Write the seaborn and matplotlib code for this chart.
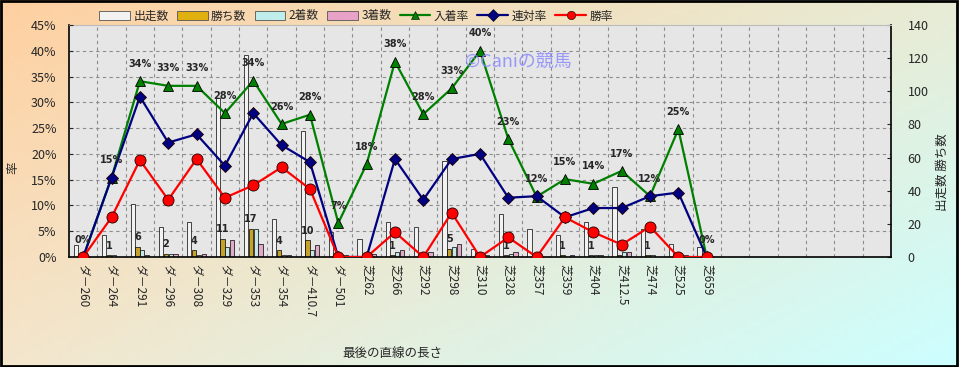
import numpy as np
import pandas as pd
import matplotlib
matplotlib.use('Agg')
import matplotlib.pyplot as plt
from matplotlib.patches import Patch, Rectangle
from matplotlib.lines import Line2D
from matplotlib.ticker import FixedLocator, FuncFormatter
import seaborn as sns

# data
cats = ['ダ－260', 'ダ－264', 'ダ－291', 'ダ－296', 'ダ－308', 'ダ－329', 'ダ－353', 'ダ－354',
        'ダ－410.7', 'ダ－501', '芝262', '芝266', '芝292', '芝298', '芝310', '芝328', '芝357',
        '芝359', '芝404', '芝412.5', '芝474', '芝525', '芝659']
runs = [7, 13, 32, 18, 21, 96, 122, 23, 76, 15, 11, 21, 18, 58, 5, 26, 17, 13, 21, 42, 17, 8, 6]
wins = [0, 1, 6, 2, 4, 11, 17, 4, 10, 0, 0, 1, 0, 5, 0, 1, 0, 1, 1, 1, 1, 0, 0]
seconds = [0, 1, 4, 2, 1, 6, 17, 1, 4, 0, 0, 3, 2, 6, 1, 2, 2, 0, 1, 3, 1, 1, 0]
thirds = [0, 0, 1, 2, 2, 10, 8, 1, 7, 1, 2, 4, 3, 8, 1, 3, 0, 1, 1, 3, 0, 1, 0]
place_rate = [0, 15.4, 34.1, 33.2, 33.2, 27.9, 34.2, 25.8, 27.6, 6.6, 18.0, 37.9, 27.7, 32.7,
              40.0, 22.9, 11.7, 15.1, 14.2, 16.7, 11.8, 24.8, 0]
quinella_rate = [0, 15.4, 31.1, 22.2, 23.8, 17.7, 27.9, 21.7, 18.4, 0, 0, 19.0, 11.1, 19.0,
                 20.0, 11.5, 11.8, 7.7, 9.5, 9.5, 11.8, 12.5, 0]
win_rate = [0, 7.7, 18.8, 11.1, 19.0, 11.5, 13.9, 17.4, 13.2, 0, 0, 4.8, 0, 8.6, 0, 3.8, 0,
            7.7, 4.8, 2.4, 5.9, 0, 0]
n_slots = 29

bar_names = ['出走数', '勝ち数', '2着数', '3着数']
bar_colors = ['#F2F2F2', '#E0B010', '#BFEDEB', '#E8A2C8']
line_names = ['入着率', '連対率', '勝率']
line_colors = ['#008000', '#000080', '#FF0000']
line_markers = ['^', 'D', 'o']

sns.set_style('white')
plt.rcParams['font.family'] = ['Noto Sans CJK JP', 'DejaVu Sans']

fig = plt.figure(figsize=(9.59, 3.67), dpi=100)

# gradient background
bg = fig.add_axes([0, 0, 1, 1], zorder=-10)
tl = np.array([255, 208, 160]) / 255
tr = np.array([232, 236, 214]) / 255
bl = np.array([244, 230, 204]) / 255
br = np.array([204, 255, 255]) / 255
u = np.linspace(0, 1, 200)[None, :, None]
v = np.linspace(0, 1, 80)[:, None, None]
img = (1 - v) * ((1 - u) * tl + u * tr) + v * ((1 - u) * bl + u * br)
bg.imshow(img, aspect='auto', extent=[0, 1, 0, 1])
bg.axis('off')
fig.patches.append(Rectangle((0.001, 0.002), 0.997, 0.995, transform=fig.transFigure,
                             fill=False, edgecolor='black', lw=2))

ax = fig.add_axes([0.072, 0.2997, 0.857, 0.6322])
ax.set_facecolor('#E6E6E6')
ax2 = ax.twinx()
ax2.patch.set_visible(False)

df = pd.DataFrame({'距離': cats, '出走数': runs, '勝ち数': wins, '2着数': seconds, '3着数': thirds})
long_df = df.melt(id_vars='距離', var_name='種類', value_name='数')
sns.barplot(data=long_df, x='距離', y='数', hue='種類', order=cats, hue_order=bar_names,
            palette=bar_colors, width=0.68, gap=0.12, edgecolor='black', linewidth=0.5,
            errorbar=None, legend=False, ax=ax)

for i, w in enumerate(wins):
    if w > 0:
        ax.annotate(str(w), (i - 0.085, w), xytext=(0, 7), textcoords='offset points',
                    ha='center', va='center', fontsize=7, fontweight='bold', family='DejaVu Sans')

# right axis: counts
ax.set_ylim(0, 140)
ax.set_yticks(range(0, 141, 20))
ax.yaxis.tick_right()
ax.yaxis.set_label_position('right')
ax.tick_params(axis='y', which='major', direction='in', length=3, pad=12, labelsize=9,
               left=False, labelleft=False, right=True, labelright=True)
ax.set_xlabel('')
ax.set_ylabel('')
ax.set_axisbelow(True)
ax.yaxis.set_minor_locator(FixedLocator(np.arange(5, 45, 5) * 140 / 45))
ax.xaxis.set_minor_locator(FixedLocator(np.arange(0.5, n_slots - 0.5, 1)))
ax.grid(which='minor', linestyle=(0, (3, 3)), color='#8C8C8C', linewidth=0.8)
ax.grid(which='major', visible=False)
ax.tick_params(which='minor', length=0)
for side in ['left', 'right', 'bottom']:
    ax.spines[side].set_color('black')
    ax.spines[side].set_linewidth(1.2)
ax.spines['top'].set_color('#BBBBBB')

# left axis: rates
x_pos = np.arange(len(cats))
for name, vals, col, mk in zip(line_names, [place_rate, quinella_rate, win_rate],
                               line_colors, line_markers):
    sns.lineplot(x=x_pos, y=vals, ax=ax2, color=col, linewidth=1.6, marker=mk,
                 markersize=8 if mk == 'o' else 7.5 if mk == '^' else 6.5,
                 markerfacecolor=col, markeredgecolor='#200000' if mk != '^' else 'black',
                 markeredgewidth=0.6)

for i, p in enumerate(place_rate):
    ax2.annotate(f'{p:.0f}%', (i, p), xytext=(0, 12.5), textcoords='offset points',
                 ha='center', va='center', fontsize=7, fontweight='bold', family='DejaVu Sans')

ax2.set_ylim(0, 45)
ax2.set_yticks(range(0, 46, 5))
ax2.yaxis.set_major_formatter(FuncFormatter(lambda v, _: f'{v:.0f}%'))
ax2.yaxis.tick_left()
ax2.tick_params(axis='y', direction='in', length=3, pad=9, labelsize=9,
                left=True, labelleft=True, right=False, labelright=False)
for s in ax2.spines.values():
    s.set_visible(False)
ax2.set_xlabel('')
ax2.set_ylabel('')

ax.set_xlim(-0.5, n_slots - 0.5)
ax.set_xticks(range(len(cats)))
ax.set_xticklabels(cats, rotation=-90, ha='center', va='top', fontsize=8.5)
ax.tick_params(axis='x', which='major', length=0, pad=5)

fig.text(392 / 959, 1 - 353 / 367, '最後の直線の長さ', ha='center', va='center', fontsize=9)
fig.text(13 / 959, 1 - 168 / 367, '率', ha='center', va='center', fontsize=9, rotation=90)
fig.text(942 / 959, 1 - 172 / 367, '出走数 勝ち数', ha='center', va='center', fontsize=9, rotation=90)
fig.text(518 / 959, 1 - 62 / 367, '©Caniの競馬', ha='center', va='center', fontsize=13,
         color='#8C8CFF', alpha=0.85)

handles = [Patch(facecolor=c, edgecolor='#555555', linewidth=0.6) for c in bar_colors]
handles += [Line2D([], [], color=c, marker=m, markersize=6, linewidth=1.6, markeredgecolor='black',
                   markeredgewidth=0.4) for c, m in zip(line_colors, line_markers)]
fig.legend(handles, bar_names + line_names, loc='center', bbox_to_anchor=(356 / 959, 1 - 16 / 367),
           ncol=7, frameon=False, fontsize=8.5, handlelength=2.6, handleheight=0.7,
           columnspacing=0.7, handletextpad=0.3)

fig.savefig('out.png', dpi=100)
